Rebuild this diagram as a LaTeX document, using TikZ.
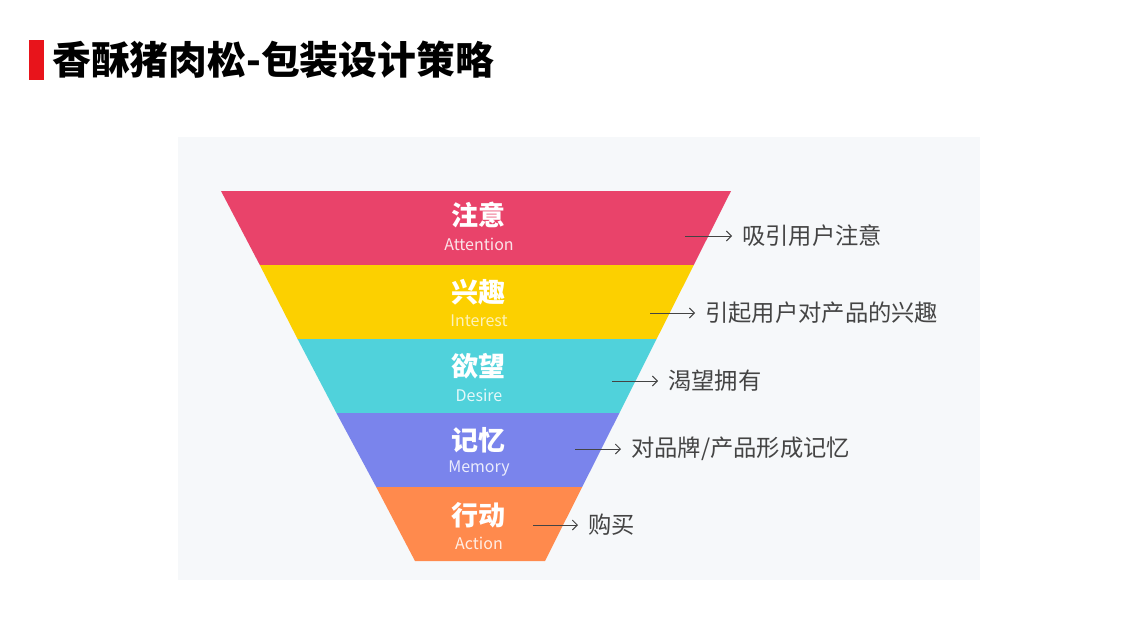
\documentclass[tikz,border=0pt]{standalone}
\usepackage{fontspec}
\setmainfont{Noto Sans CJK SC}
\usetikzlibrary{arrows.meta}
\definecolor{panelbg}{HTML}{F6F8FA}
\definecolor{titlered}{HTML}{E8141B}
\definecolor{bandA}{HTML}{E9436A}
\definecolor{bandB}{HTML}{FCD000}
\definecolor{bandC}{HTML}{50D2DB}
\definecolor{bandD}{HTML}{7A84EC}
\definecolor{bandE}{HTML}{FF8A4D}
\definecolor{labgray}{HTML}{444444}
\tikzset{
  cnlab/.style={font=\bfseries\fontsize{27}{29}\selectfont, text=white, inner sep=0pt},
  enlab/.style={font=\fontsize{16}{18}\selectfont, text=white, text opacity=0.85, inner sep=0pt},
  desc/.style={anchor=west, font=\fontsize{23.3}{26}\selectfont, text=labgray, inner sep=0pt},
  pointer/.style={draw=labgray, line width=0.9pt, -{Straight Barb[length=5pt,width=10pt]}}
}
\begin{document}
\begin{tikzpicture}[x=1pt,y=-1pt]
\useasboundingbox (0,0) rectangle (1146,643);
\fill[white] (0,0) rectangle (1146,643);
\fill[panelbg] (178,137) rectangle (980,580);
% title
\fill[titlered] (29,40) rectangle (44,80);
\node[anchor=west, inner sep=0pt, font=\bfseries\fontsize{38.8}{42}\selectfont] (title) at (52,60) {香酥猪肉松-包装设计策略};
% funnel bands
\fill[bandA] (221,191) -- (731,191) -- (693.8,265) -- (259.8,265) -- cycle;
\fill[bandB] (259.8,265) -- (693.8,265) -- (656.6,339) -- (297.6,339) -- cycle;
\fill[bandC] (297.6,339) -- (656.6,339) -- (619.4,413) -- (336.4,413) -- cycle;
\fill[bandD] (336.4,413) -- (619.4,413) -- (582.2,487) -- (376.2,487) -- cycle;
\fill[bandE] (376.2,487) -- (582.2,487) -- (545,561) -- (415,561) -- cycle;
% band labels
\node[cnlab] (a1) at (478,215) {注意};
\node[enlab] (a2) at (479,244) {Attention};
\node[cnlab] (b1) at (478,292) {兴趣};
\node[enlab, text=white!85!bandB] (b2) at (479,321) {Interest};
\node[cnlab] (c1) at (478,366) {欲望};
\node[enlab] (c2) at (479,395) {Desire};
\node[cnlab] (d1) at (478,440) {记忆};
\node[enlab] (d2) at (479,469) {Memory};
\node[cnlab] (e1) at (478,515) {行动};
\node[enlab] (e2) at (479,543) {Action};
% descriptions
\coordinate (pa) at (685,236);
\coordinate (pb) at (650,313);
\coordinate (pc) at (612,381);
\coordinate (pd) at (575,449);
\coordinate (pe) at (533,525);
\node[desc] (ta) at (742,236) {吸引用户注意};
\node[desc] (tb) at (705,313) {引起用户对产品的兴趣};
\node[desc] (tc) at (668,381) {渴望拥有};
\node[desc] (td) at (631,449) {对品牌/产品形成记忆};
\node[desc] (te) at (588,525) {购买};
\draw[pointer] (pa) -- ([xshift=-10pt]ta.west);
\draw[pointer] (pb) -- ([xshift=-10pt]tb.west);
\draw[pointer] (pc) -- ([xshift=-10pt]tc.west);
\draw[pointer] (pd) -- ([xshift=-10pt]td.west);
\draw[pointer] (pe) -- ([xshift=-10pt]te.west);
\end{tikzpicture}
\end{document}
